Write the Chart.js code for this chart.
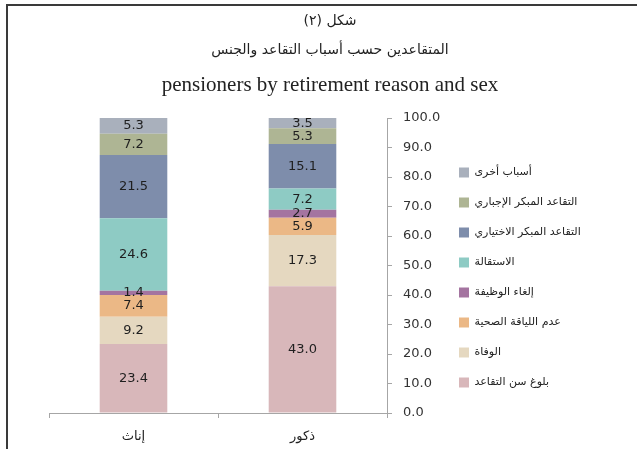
<!DOCTYPE html>
<html>
<head>
<meta charset="utf-8">
<script src="https://cdn.jsdelivr.net/npm/chart.js@4/dist/chart.umd.min.js"></script>
<style>
  body { margin: 0; background: #fff; }
  #frame { position: absolute; left: 6px; top: 4px; right: 0; bottom: 0; border-top: 2px solid #3a3a3a; border-left: 2px solid #3a3a3a; }
  #myChart { position: absolute; left: 0; top: 0; }
</style>
</head>
<body>
<div id="frame"></div>
<canvas id="myChart" width="637" height="449"></canvas>
<script>
'use strict';
//data
let categories = ['إناث', 'ذكور'];
let reasonNames = ['بلوغ سن التقاعد', 'الوفاة', 'عدم اللياقة الصحية', 'إلغاء الوظيفة', 'الاستقالة', 'التقاعد المبكر الاختياري', 'التقاعد المبكر الإجباري', 'أسباب أخرى'];
let femaleValues = [23.4, 9.2, 7.4, 1.4, 24.6, 21.5, 7.2, 5.3];
let maleValues = [43.0, 17.3, 5.9, 2.7, 7.2, 15.1, 5.3, 3.5];
let reasonColors = ['#d8b7ba', '#e5d8c0', '#ebb886', '#a474a0', '#8ecbc4', '#7e8dab', '#aeb594', '#a9b0bc'];
let yMin = 0;
let yMax = 100;
let yStep = 10;

let chartEl = document.getElementById('myChart');
let ctx = chartEl.getContext('2d');

let datasets = [];
for (let i = 0; i < reasonNames.length; i++) {
  datasets.push({
    label: reasonNames[i],
    data: [femaleValues[i], maleValues[i]],
    backgroundColor: reasonColors[i],
    borderWidth: 0,
    barPercentage: 0.4,
    categoryPercentage: 1
  });
}

// value written in the middle of every segment
let barLabels = {
  id: 'barLabels',
  afterDatasetsDraw(chart) {
    let c = chart.ctx;
    c.save();
    c.font = '13px "DejaVu Sans"';
    c.fillStyle = '#1f1f1f';
    c.textAlign = 'center';
    c.textBaseline = 'middle';
    chart.data.datasets.forEach(function (ds, i) {
      chart.getDatasetMeta(i).data.forEach(function (bar, j) {
        c.fillText(ds.data[j].toFixed(1), bar.x, (bar.y + bar.base) / 2);
      });
    });
    c.restore();
  }
};

// fixed legend width so the plot keeps its place
let legendWidth = {
  id: 'legendWidth',
  beforeInit(chart) {
    let fit = chart.legend.fit;
    chart.legend.fit = function () {
      fit.call(this);
      this.width = 171;
    };
  }
};

let axisGray = '#a6a6a6';

new Chart(ctx, {
  type: 'bar',
  data: {
    labels: categories,
    datasets: datasets
  },
  plugins: [barLabels, legendWidth],
  options: {
    responsive: false,
    animation: false,
    devicePixelRatio: 1,
    layout: { padding: { left: 49, right: 26, top: 0, bottom: 0 } },
    scales: {
      x: {
        stacked: true,
        grid: { offset: true, drawOnChartArea: false, tickLength: 5, color: axisGray },
        border: { color: axisGray },
        ticks: { color: '#222', padding: 11, font: { family: 'DejaVu Sans', size: 13 } },
        afterFit: function (scale) { scale.height = 36; }
      },
      y: {
        stacked: true,
        position: 'right',
        min: yMin,
        max: yMax,
        grid: { drawOnChartArea: false, tickLength: 5, color: axisGray },
        border: { color: axisGray },
        ticks: {
          stepSize: yStep,
          padding: 11,
          color: '#333',
          font: { family: 'DejaVu Sans', size: 13 },
          callback: function (v) { return v.toFixed(1); }
        },
        afterFit: function (scale) { scale.width = 53; }
      }
    },
    plugins: {
      tooltip: { enabled: false },
      title: {
        display: true,
        text: ['شكل (٢)\u200F', 'المتقاعدين حسب أسباب التقاعد والجنس'],
        color: '#222',
        font: { family: 'DejaVu Sans', size: 14, weight: 'normal', lineHeight: '29px' },
        padding: { top: 6.5, bottom: 0 }
      },
      subtitle: {
        display: true,
        text: 'pensioners by retirement reason and sex',
        color: '#222',
        font: { family: 'Liberation Serif', size: 21, lineHeight: '24px' },
        padding: { top: 9, bottom: 20.5 }
      },
      legend: {
        position: 'right',
        align: 'start',
        fullSize: false,
        reverse: true,
        title: { display: true, text: '', padding: 0, font: { size: 12, lineHeight: '30px' } },
        labels: {
          boxWidth: 10,
          boxHeight: 10,
          padding: 19,
          color: '#222',
          font: { family: 'DejaVu Sans', size: 11 }
        }
      }
    }
  }
});
</script>
</body>
</html>
